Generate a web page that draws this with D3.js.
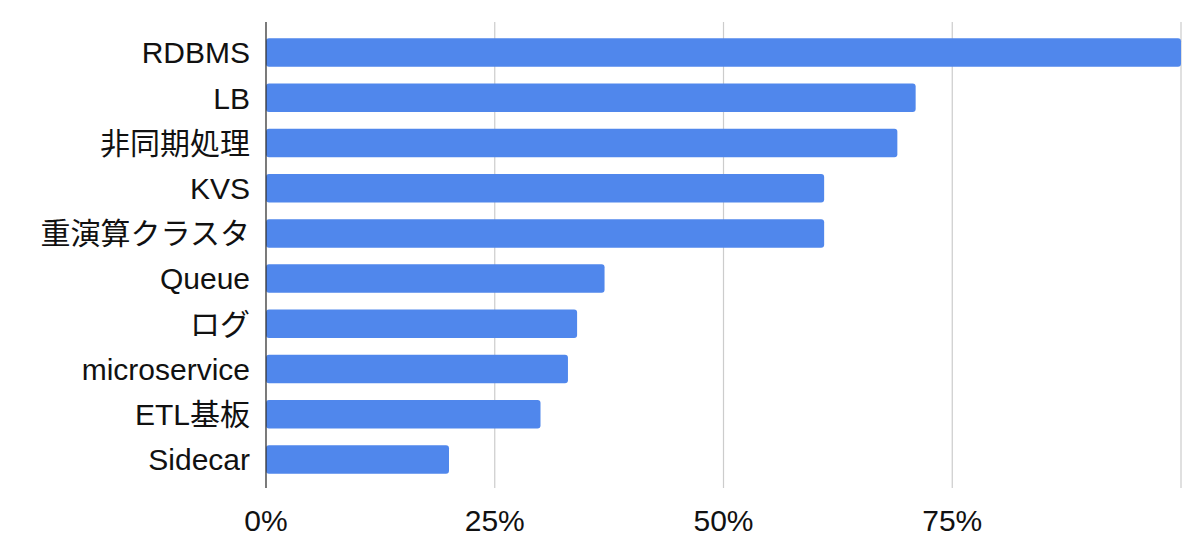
<!DOCTYPE html>
<html><head><meta charset="utf-8">
<script src="https://cdn.jsdelivr.net/npm/d3@7"></script>
<style>html,body{margin:0;padding:0;background:#fff;}</style>
</head><body>
<svg id="c" width="1200" height="551"></svg>
<script>
const categories = ["RDBMS","LB","非同期処理","KVS","重演算クラスタ","Queue","ログ","microservice","ETL基板","Sidecar"];
const values = [100,71,69,61,61,37,34,33,30,20];
const tickValues = [0,25,50,75,100];
const tickLabels = ["0%","25%","50%","75%",""];

(function(){
const svg = d3.select("#c");
const font = "'Liberation Sans', Arial, 'Noto Sans CJK JP', sans-serif";
const x = d3.scaleLinear().domain([0,100]).range([266,1181]);
const y = d3.scaleBand().domain(categories).range([30,482]).paddingInner(0.37).paddingOuter(0.185);
const plotTop = 22, plotBottom = 488;

// gridlines
svg.append("g").selectAll("line").data(tickValues.slice(1)).join("line")
  .attr("x1", d=>x(d)).attr("x2", d=>x(d)).attr("y1", plotTop).attr("y2", plotBottom)
  .attr("stroke", "#cccccc").attr("stroke-width", 1.2);

// bars
svg.append("g").selectAll("rect").data(values).join("rect")
  .attr("x", x(0)).attr("y", (d,i)=>y(categories[i]))
  .attr("width", d=>x(d)-x(0)).attr("height", y.bandwidth())
  .attr("rx", 3).attr("fill", "#5087ec");

// axis line
svg.append("line").attr("x1", x(0)).attr("x2", x(0)).attr("y1", plotTop).attr("y2", plotBottom)
  .attr("stroke", "#333").attr("stroke-width", 1.3);

// category labels
svg.append("g").selectAll("text").data(categories).join("text")
  .attr("x", x(0)-16).attr("y", d=>y(d)+y.bandwidth()/2)
  .attr("dy", "0.36em").attr("text-anchor", "end")
  .attr("font-family", font).attr("font-size", 30).attr("fill", "#111")
  .text(d=>d);

// x tick labels
svg.append("g").selectAll("text").data(tickValues).join("text")
  .attr("x", d=>x(d)).attr("y", 531).attr("text-anchor", "middle")
  .attr("font-family", font).attr("font-size", 30).attr("fill", "#111")
  .text((d,i)=>tickLabels[i]);
})();
</script>
</body></html>
